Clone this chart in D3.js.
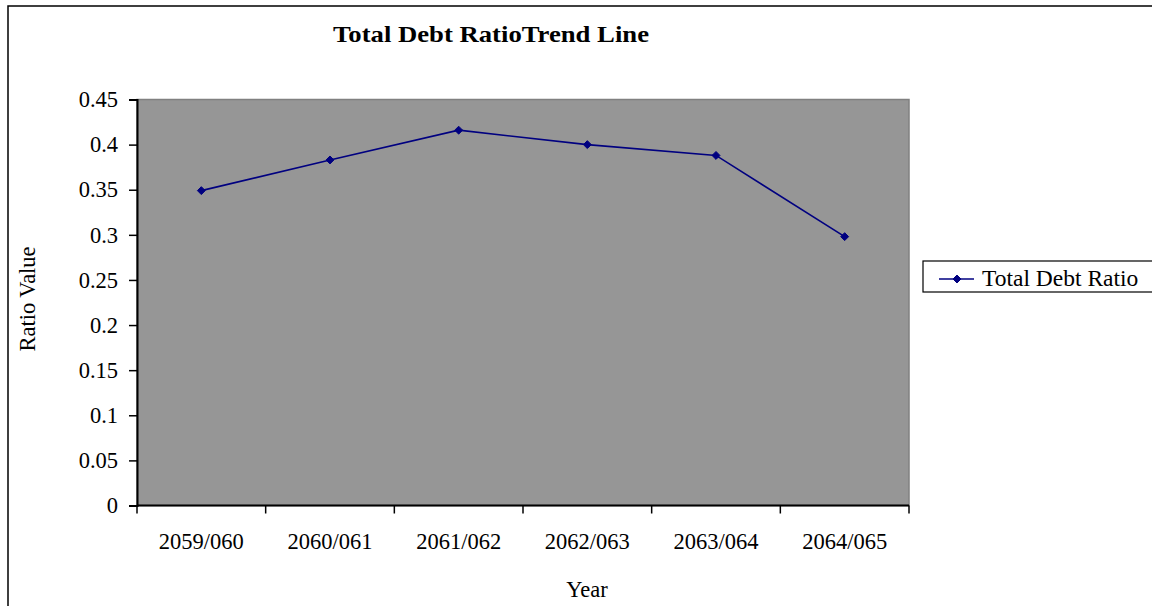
<!DOCTYPE html>
<html>
<head>
<meta charset="utf-8">
<script src="https://cdn.jsdelivr.net/npm/d3@7"></script>
<style>
  html, body { margin: 0; padding: 0; background: #ffffff; }
  svg { display: block; }
  svg text { font-family: "Liberation Serif", "Times New Roman", serif !important; fill: #000; }
</style>
</head>
<body>
<svg id="chart" width="1152" height="606"></svg>
<script>
// Fiscal years and the total debt ratio for each
const years = ["2059/060", "2060/061", "2061/062", "2062/063", "2063/064", "2064/065"];
const debtRatio = [0.349, 0.383, 0.416, 0.400, 0.388, 0.298];
const yTicks = [0, 0.05, 0.1, 0.15, 0.2, 0.25, 0.3, 0.35, 0.4, 0.45];
const seriesName = "Total Debt Ratio";
const chartTitle = "Total Debt RatioTrend Line";

const serif = "'Liberation Serif', 'Times New Roman', serif";
const svg = d3.select("#chart");
const plot = { left: 137, right: 909, top: 99.5, bottom: 505.5 };
const navy = "#000080";

// Outer chart frame (runs past the right and bottom edges)
svg.append("rect")
  .attr("x", 8).attr("y", 6).attr("width", 1160).attr("height", 620)
  .attr("fill", "#fff").attr("stroke", "#000").attr("stroke-width", 1.5);

const x = d3.scaleBand().domain(years).range([plot.left, plot.right]).padding(0);
const y = d3.scaleLinear().domain([0, 0.45]).range([plot.bottom, plot.top]);

// Plot area
svg.append("rect")
  .attr("x", plot.left).attr("y", plot.top)
  .attr("width", plot.right - plot.left).attr("height", plot.bottom - plot.top)
  .attr("fill", "#969696").attr("stroke", "#808080").attr("stroke-width", 1.5);

// Y axis
const yAxis = svg.append("g")
  .attr("transform", `translate(${plot.left},0)`)
  .call(d3.axisLeft(y).tickValues(yTicks).tickSize(8).tickPadding(11)
    .tickFormat(d => String(+d.toFixed(2))));
yAxis.attr("font-family", null);
yAxis.select(".domain").attr("stroke", "#000").attr("stroke-width", 2);
yAxis.selectAll(".tick line").attr("stroke", "#000").attr("stroke-width", 1.5);
yAxis.selectAll(".tick text")
  .style("font-family", serif)
  .style("font-size", "22.5px").attr("fill", "#000");

// X axis: ticks at the category boundaries, labels at the centres
const xAxisG = svg.append("g").attr("transform", `translate(0,${plot.bottom})`);
xAxisG.append("line")
  .attr("x1", plot.left).attr("x2", plot.right).attr("y1", 0).attr("y2", 0)
  .attr("stroke", "#000").attr("stroke-width", 2);
const boundaries = years.map(d => x(d)).concat([x(years[years.length - 1]) + x.bandwidth()]);
xAxisG.selectAll("line.tick")
  .data(boundaries).enter().append("line")
  .attr("class", "tick")
  .attr("x1", d => d).attr("x2", d => d).attr("y1", 0).attr("y2", 8)
  .attr("stroke", "#000").attr("stroke-width", 1.5);
xAxisG.selectAll("text")
  .data(years).enter().append("text")
  .attr("x", d => x(d) + x.bandwidth() / 2)
  .attr("y", 43)
  .attr("text-anchor", "middle")
  .style("font-family", serif).style("font-size", "22.5px")
  .text(d => d);

// Series line and diamond markers
const line = d3.line()
  .x((d, i) => x(years[i]) + x.bandwidth() / 2)
  .y(d => y(d));
svg.append("path")
  .datum(debtRatio)
  .attr("d", line)
  .attr("fill", "none").attr("stroke", navy).attr("stroke-width", 1.6);

const diamond = d3.symbol().type(d3.symbolDiamond2).size(40);
svg.selectAll("path.marker")
  .data(debtRatio).enter().append("path")
  .attr("class", "marker")
  .attr("d", diamond)
  .attr("transform", (d, i) => `translate(${x(years[i]) + x.bandwidth() / 2},${y(d)})`)
  .attr("fill", navy).attr("stroke", navy).attr("stroke-width", 1);

// Title and axis titles
svg.append("text")
  .attr("x", 491).attr("y", 42)
  .attr("text-anchor", "middle")
  .attr("textLength", 316).attr("lengthAdjust", "spacingAndGlyphs")
  .style("font-family", serif).style("font-weight", "bold").style("font-size", "24px")
  .text(chartTitle);

svg.append("text")
  .attr("x", 587).attr("y", 597)
  .attr("text-anchor", "middle")
  .style("font-family", serif).style("font-size", "22.5px")
  .text("Year");

svg.append("text")
  .attr("transform", "translate(35,299) rotate(-90)")
  .attr("text-anchor", "middle")
  .style("font-family", serif).style("font-size", "22.5px")
  .text("Ratio Value");

// Legend
const legend = svg.append("g");
legend.append("rect")
  .attr("x", 923).attr("y", 261).attr("width", 260).attr("height", 31)
  .attr("fill", "#fff").attr("stroke", "#000").attr("stroke-width", 1.2);
legend.append("line")
  .attr("x1", 939).attr("x2", 974).attr("y1", 279).attr("y2", 279)
  .attr("stroke", navy).attr("stroke-width", 1.6);
legend.append("path")
  .attr("d", diamond)
  .attr("transform", "translate(957,279)")
  .attr("fill", navy).attr("stroke", navy).attr("stroke-width", 1);
legend.append("text")
  .attr("x", 982).attr("y", 286)
  .style("font-family", serif).style("font-size", "23.5px")
  .text(seriesName);
</script>
</body>
</html>
